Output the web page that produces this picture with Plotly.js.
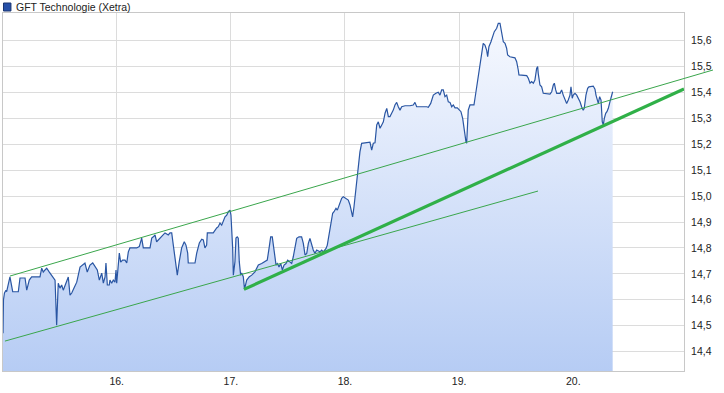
<!DOCTYPE html>
<html>
<head>
<meta charset="utf-8">
<script src="https://cdn.plot.ly/plotly-3.0.1.min.js"></script>
<style>html,body{margin:0;padding:0;background:#fff;}#chart{width:724px;height:393px;}</style>
</head>
<body>
<div id="chart"></div>
<script>
// Title / labels
const chartTitle = 'GFT Technologie (Xetra)';
const xTickVals = [16, 17, 18, 19, 20];
const xTickText = ['16.', '17.', '18.', '19.', '20.'];
const yTickVals = [14.4, 14.5, 14.6, 14.7, 14.8, 14.9, 15.0, 15.1, 15.2, 15.3, 15.4, 15.5, 15.6];

// Price series (time in trading-day units, price in EUR)
const times = [15.004,15.008,15.017,15.030,15.036,15.057,15.065,15.089,15.138,15.153,15.197,15.212,15.234,15.255,15.328,15.343,15.357,15.372,15.387,15.410,15.431,15.460,15.474,15.488,15.503,15.518,15.532,15.547,15.562,15.576,15.591,15.606,15.626,15.650,15.679,15.702,15.722,15.742,15.766,15.790,15.810,15.830,15.848,15.869,15.883,15.898,15.906,15.918,15.935,15.941,15.956,15.970,15.985,15.994,16.000,16.014,16.023,16.035,16.052,16.073,16.088,16.102,16.116,16.175,16.198,16.219,16.233,16.292,16.307,16.321,16.336,16.350,16.364,16.385,16.403,16.423,16.438,16.452,16.467,16.482,16.496,16.511,16.526,16.531,16.548,16.569,16.592,16.607,16.622,16.627,16.686,16.701,16.724,16.745,16.759,16.773,16.788,16.794,16.846,16.861,16.876,16.890,16.905,16.920,16.934,16.949,16.964,16.978,16.993,17.001,17.016,17.022,17.036,17.045,17.056,17.065,17.074,17.086,17.095,17.109,17.120,17.139,17.162,17.183,17.211,17.241,17.270,17.299,17.319,17.337,17.349,17.363,17.372,17.381,17.396,17.407,17.422,17.437,17.451,17.466,17.483,17.498,17.512,17.533,17.547,17.562,17.577,17.597,17.620,17.635,17.650,17.665,17.679,17.693,17.708,17.722,17.737,17.752,17.781,17.796,17.810,17.834,17.845,17.862,17.875,17.892,17.904,17.921,17.933,17.950,17.971,17.985,18.009,18.029,18.044,18.059,18.067,18.079,18.088,18.096,18.108,18.120,18.131,18.146,18.219,18.234,18.248,18.263,18.278,18.292,18.307,18.322,18.336,18.351,18.366,18.380,18.394,18.409,18.423,18.438,18.453,18.467,18.482,18.497,18.526,18.569,18.598,18.613,18.628,18.716,18.730,18.751,18.774,18.797,18.817,18.832,18.847,18.861,18.876,18.891,18.905,18.920,18.935,18.949,18.964,18.984,19.001,19.016,19.031,19.042,19.054,19.060,19.066,19.071,19.080,19.095,19.130,19.139,19.154,19.168,19.183,19.197,19.211,19.226,19.241,19.250,19.261,19.279,19.290,19.308,19.329,19.343,19.358,19.367,19.373,19.387,19.402,19.416,19.425,19.445,19.489,19.504,19.518,19.524,19.592,19.606,19.621,19.635,19.650,19.664,19.679,19.688,19.693,19.702,19.708,19.723,19.737,19.796,19.811,19.825,19.834,19.846,19.855,19.884,19.898,19.912,19.927,19.942,19.956,19.971,19.980,19.991,20.000,20.015,20.030,20.044,20.059,20.073,20.087,20.096,20.102,20.111,20.126,20.137,20.175,20.190,20.199,20.207,20.219,20.231,20.243,20.254,20.263,20.272,20.284,20.295,20.307,20.321,20.336,20.345];
const prices = [14.471,14.599,14.626,14.637,14.631,14.684,14.688,14.631,14.631,14.684,14.684,14.637,14.676,14.688,14.688,14.722,14.707,14.715,14.722,14.707,14.695,14.676,14.502,14.664,14.645,14.657,14.637,14.657,14.668,14.688,14.618,14.626,14.645,14.668,14.726,14.734,14.742,14.707,14.734,14.742,14.726,14.715,14.676,14.703,14.664,14.688,14.742,14.657,14.657,14.676,14.664,14.676,14.668,14.715,14.664,14.726,14.780,14.745,14.753,14.753,14.742,14.785,14.800,14.800,14.805,14.838,14.800,14.800,14.838,14.843,14.850,14.824,14.831,14.843,14.850,14.858,14.854,14.850,14.858,14.858,14.811,14.761,14.708,14.695,14.747,14.800,14.824,14.811,14.780,14.742,14.742,14.780,14.819,14.834,14.831,14.800,14.811,14.858,14.858,14.869,14.877,14.882,14.896,14.888,14.901,14.920,14.927,14.940,14.946,14.927,14.800,14.695,14.747,14.838,14.843,14.838,14.747,14.695,14.703,14.689,14.641,14.676,14.689,14.695,14.708,14.734,14.740,14.747,14.753,14.805,14.843,14.843,14.818,14.779,14.734,14.740,14.727,14.740,14.715,14.734,14.740,14.753,14.747,14.740,14.766,14.805,14.837,14.843,14.843,14.818,14.773,14.779,14.818,14.837,14.811,14.792,14.779,14.792,14.785,14.792,14.785,14.798,14.811,14.850,14.895,14.934,14.940,14.953,14.946,14.966,14.992,14.998,14.992,14.985,14.966,14.927,14.920,14.959,14.998,15.043,15.094,15.133,15.171,15.204,15.208,15.178,15.204,15.206,15.275,15.287,15.262,15.275,15.287,15.320,15.339,15.307,15.307,15.320,15.332,15.352,15.362,15.345,15.332,15.345,15.349,15.349,15.352,15.362,15.345,15.345,15.343,15.358,15.390,15.397,15.401,15.390,15.410,15.410,15.384,15.390,15.364,15.362,15.345,15.352,15.341,15.341,15.332,15.326,15.300,15.262,15.236,15.210,15.204,15.275,15.332,15.352,15.352,15.378,15.422,15.474,15.506,15.545,15.590,15.583,15.564,15.538,15.577,15.596,15.609,15.635,15.648,15.667,15.667,15.648,15.622,15.596,15.590,15.571,15.545,15.538,15.534,15.519,15.487,15.468,15.465,15.455,15.436,15.442,15.436,15.448,15.493,15.500,15.474,15.448,15.429,15.422,15.397,15.394,15.403,15.429,15.436,15.410,15.397,15.397,15.410,15.390,15.371,15.358,15.371,15.390,15.422,15.378,15.390,15.397,15.390,15.378,15.364,15.345,15.332,15.339,15.371,15.390,15.416,15.422,15.425,15.413,15.390,15.371,15.358,15.384,15.371,15.287,15.275,15.300,15.320,15.326,15.339,15.364,15.390,15.403];

// Trend lines (endpoints in time / price)
const upperTrendX = [15.065, 21.224];
const upperTrendY = [14.6915, 15.487];
const lowerTrendX = [15.021, 19.691];
const lowerTrendY = [14.4405, 15.0197];
const mainTrendX = [17.115, 20.97];
const mainTrendY = [14.640, 15.4135];

const xRange = [15.004, 20.970];
const xRangeWide = [15.004, 21.224];
const yRange = [14.325, 15.707];

const fontFam = 'Liberation Sans, Arial, sans-serif';

const traces = [
  {
    x: times, y: prices, type: 'scatter', mode: 'lines',
    line: {color: '#2a56a3', width: 1.2},
    fill: 'tozeroy',
    fillgradient: {type: 'vertical', colorscale: [[0, '#b6ccf4'], [1, '#f8faff']], start: yRange[0], stop: yRange[1]},
    hoverinfo: 'x+y', showlegend: false
  },
  {
    x: lowerTrendX, y: lowerTrendY, type: 'scatter', mode: 'lines',
    line: {color: '#3aa64c', width: 1}, showlegend: false
  },
  {
    x: mainTrendX, y: mainTrendY, type: 'scatter', mode: 'lines',
    line: {color: '#30b048', width: 3.2}, showlegend: false
  },
  {
    x: upperTrendX, y: upperTrendY, type: 'scatter', mode: 'lines',
    xaxis: 'x2', yaxis: 'y2',
    line: {color: '#3aa64c', width: 1}, showlegend: false
  }
];

const layout = {
  width: 724, height: 393,
  margin: {l: 3, r: 11, t: 13, b: 22, pad: 0},
  paper_bgcolor: '#ffffff',
  plot_bgcolor: 'rgba(0,0,0,0)',
  separators: ',.',
  font: {family: fontFam, size: 10, color: '#222222'},
  showlegend: false,
  xaxis: {
    domain: [0, 681 / 710],
    range: xRange, anchor: 'y',
    tickvals: xTickVals, ticktext: xTickText,
    showgrid: true, gridcolor: '#dcdcdc', gridwidth: 1,
    zeroline: false, ticks: '',
    showline: true, linecolor: '#c8c8c8', linewidth: 1, mirror: true,
    tickfont: {family: fontFam, size: 10.5, color: '#222222'},
    automargin: false, fixedrange: true
  },
  yaxis: {
    domain: [0, 1],
    range: yRange, anchor: 'x', side: 'right',
    tickvals: yTickVals, tickformat: '.1f',
    showgrid: true, gridcolor: '#dcdcdc', gridwidth: 1,
    zeroline: false, ticks: '',
    ticklabelstandoff: 4,
    showline: true, linecolor: '#c8c8c8', linewidth: 1, mirror: true,
    tickfont: {family: fontFam, size: 10.5, color: '#222222'},
    automargin: false, fixedrange: true
  },
  xaxis2: {domain: [0, 1], range: xRangeWide, anchor: 'y2', visible: false, fixedrange: true},
  yaxis2: {domain: [0, 1], range: yRange, anchor: 'x2', visible: false, fixedrange: true},
  shapes: [
    {type: 'rect', xref: 'paper', yref: 'paper',
     x0: 0.0007, x1: 0.0112, y0: (371 - 11) / 358, y1: (371 - 3) / 358,
     fillcolor: '#2650a8', line: {color: '#1a3570', width: 1}}
  ],
  annotations: [
    {text: chartTitle, xref: 'paper', yref: 'paper',
     x: 11 / 710, y: (371 - 7) / 358, xanchor: 'left', yanchor: 'middle',
     showarrow: false, font: {family: fontFam, size: 10.5, color: '#222222'}}
  ]
};

Plotly.newPlot('chart', traces, layout, {displayModeBar: false, staticPlot: true});
</script>
</body>
</html>
